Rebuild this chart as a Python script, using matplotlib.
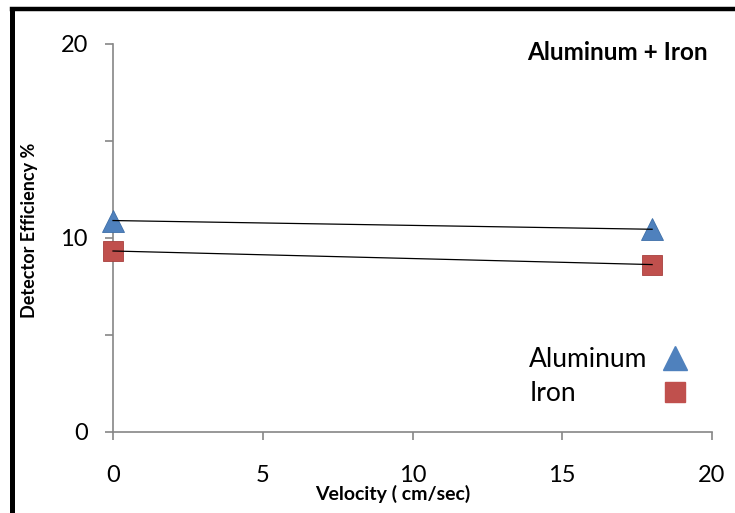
import numpy as np
import matplotlib
matplotlib.use("Agg")
import matplotlib.pyplot as plt
from matplotlib.lines import Line2D

plt.rcParams['font.family'] = ['Lato', 'DejaVu Sans']

# data
velocity = [0, 18]
aluminum = [10.9, 10.45]
iron = [9.33, 8.63]
series_names = ['Aluminum', 'Iron']

xticks = [0, 5, 10, 15, 20]
yticks_major = [0, 10, 20]
yticks_minor = [5, 15]

W, H = 735, 513
fig = plt.figure(figsize=(W / 100, H / 100), dpi=100)
ax = fig.add_axes([113 / W, (H - 432) / H, 599 / W, 388 / H])

blue = '#4F81BD'
red = '#C0504D'
gray = '#868686'

ax.plot(velocity, aluminum, linestyle='none', marker='^', ms=15.5,
        color=blue, mec='#3d6ea8', mew=0.6, clip_on=False, zorder=3)
ax.plot(velocity, iron, linestyle='none', marker='s', ms=14.5,
        color=red, mec='#a8403d', mew=0.6, clip_on=False, zorder=3)

# linear trendlines
for ys in (aluminum, iron):
    k, b = np.polyfit(velocity, ys, 1)
    xs = np.array([velocity[0], velocity[-1]])
    ax.plot(xs, k * xs + b, color='black', lw=0.9, zorder=4, clip_on=False)

ax.set_xlim(0, 20)
ax.set_ylim(0, 20)
ax.set_xticks(xticks)
ax.set_yticks(yticks_major)
ax.set_yticks(yticks_minor, minor=True)

for s in ['top', 'right']:
    ax.spines[s].set_visible(False)
for s in ['left', 'bottom']:
    ax.spines[s].set_color(gray)
    ax.spines[s].set_linewidth(1.2)

ax.tick_params(axis='both', which='both', color=gray, width=1.2, length=6,
               labelsize=17, labelcolor='black')
ax.tick_params(axis='y', which='both', pad=12)
ax.tick_params(axis='x', pad=18)

fig.text(30 / W, 1 - 230 / H, 'Detector Efficiency %', rotation=90,
         ha='center', va='center', fontsize=13, fontweight='bold')
fig.text(393 / W, 1 - 494 / H, 'Velocity ( cm/sec)',
         ha='center', va='center', fontsize=14, fontweight='bold')
fig.text(708 / W, 1 - 52 / H, 'Aluminum + Iron',
         ha='right', va='center', fontsize=17.5, fontweight='bold')

# legend: labels in the first column, markers in the second
blank = Line2D([], [], linestyle='none')
handles = [blank, blank,
           Line2D([], [], linestyle='none', marker='^', ms=17, color=blue),
           Line2D([], [], linestyle='none', marker='s', ms=15, color=red)]
labels = series_names + ['', '']
fig.legend(handles, labels, loc='upper left', ncol=2,
           bbox_to_anchor=(503 / W, 1 - 347 / H), frameon=False,
           fontsize=19, borderpad=0, borderaxespad=0,
           handletextpad=0, handlelength=1.0, labelspacing=0.34,
           columnspacing=0.55)

# outer frame (top and left edges)
fig.add_artist(Line2D([12 / W, 1], [1 - 9 / H, 1 - 9 / H],
                      transform=fig.transFigure, color='black', lw=3.2))
fig.add_artist(Line2D([12 / W, 12 / W], [0, 1 - 9 / H],
                      transform=fig.transFigure, color='black', lw=3.6))

fig.savefig('out.png', dpi=100)
